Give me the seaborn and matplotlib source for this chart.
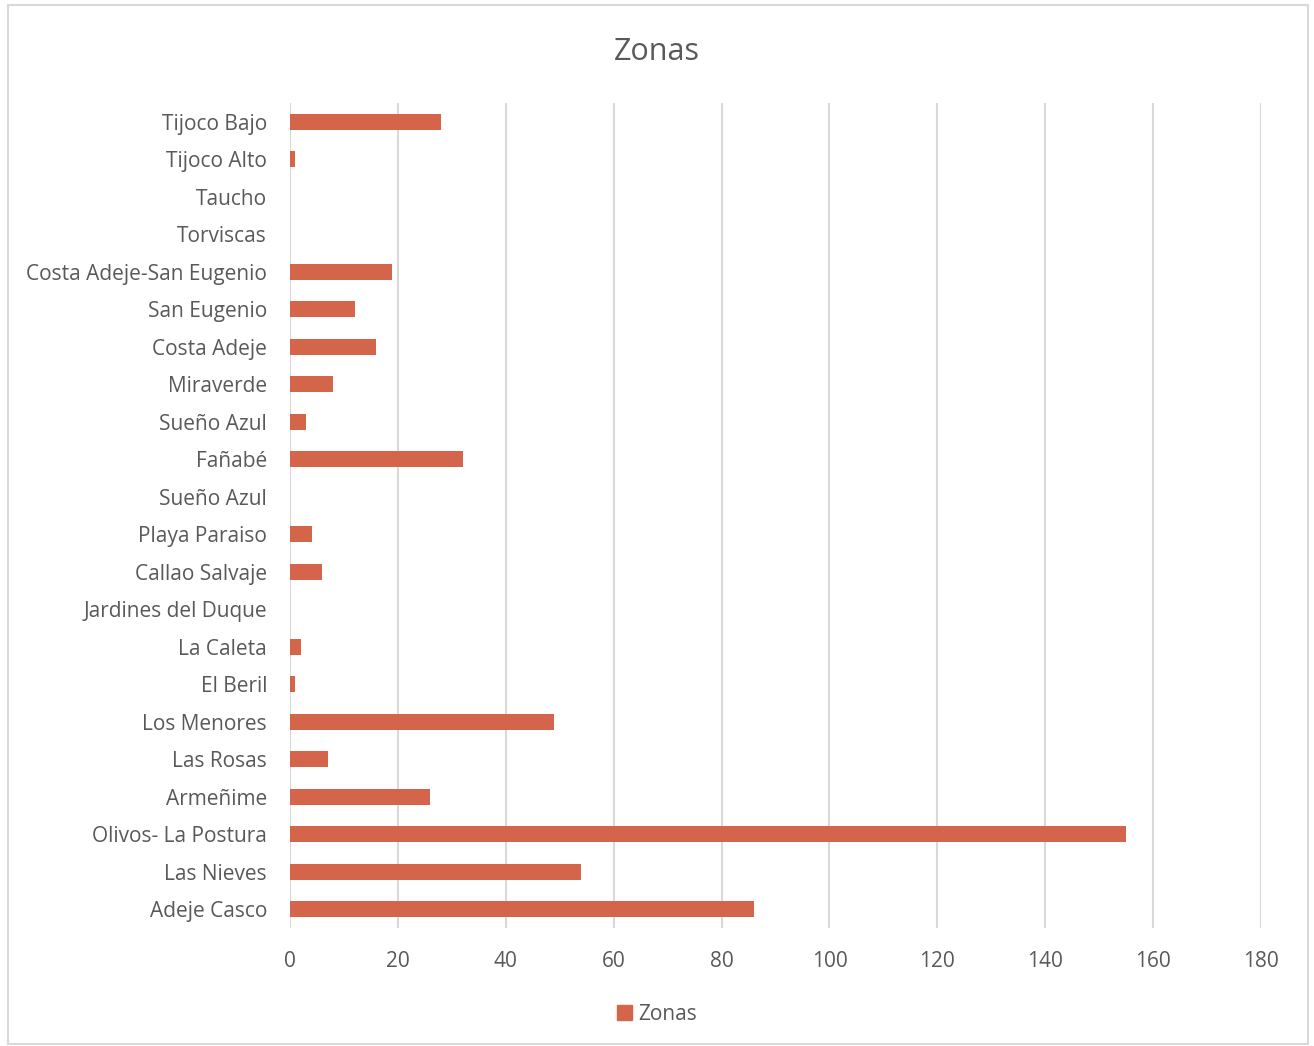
import matplotlib
matplotlib.use('Agg')
import matplotlib.pyplot as plt
import matplotlib.patches as mpatches
import seaborn as sns
import pandas as pd

# categories from top to bottom as in the chart
zonas = ['Tijoco Bajo', 'Tijoco Alto', 'Taucho', 'Torviscas',
         'Costa Adeje-San Eugenio', 'San Eugenio', 'Costa Adeje', 'Miraverde',
         'Sueño Azul', 'Fañabé', 'Sueño Azul', 'Playa Paraiso', 'Callao Salvaje',
         'Jardines del Duque', 'La Caleta', 'El Beril', 'Los Menores', 'Las Rosas',
         'Armeñime', 'Olivos- La Postura', 'Las Nieves', 'Adeje Casco']
valores = [28, 1, 0, 0, 19, 12, 16, 8, 3, 32, 0, 4, 6, 0, 2, 1, 49, 7, 26, 155, 54, 86]
ticks_x = [0, 20, 40, 60, 80, 100, 120, 140, 160, 180]

bar_color = '#D4654B'
txt = '#595959'
grid = '#D9D9D9'

sns.set_style('white')
plt.rcParams['font.family'] = ['Open Sans', 'DejaVu Sans']

# 'Sueño Azul' appears twice, so keep rows apart by position
df = pd.DataFrame({'pos': [str(i) for i in range(len(zonas))], 'valor': valores})

fig = plt.figure(figsize=(13.14, 10.46), dpi=100)
ax = fig.add_axes([290/1314, 1 - 928/1046, (1261-290)/1314, (928-103)/1046])

sns.barplot(data=df, x='valor', y='pos', orient='h', color=bar_color,
            width=0.42, saturation=1, linewidth=0, ax=ax)

ax.set_xlim(0, 180)
ax.set_xticks(ticks_x)
ax.set_xticklabels([str(t) for t in ticks_x], fontsize=15, color=txt)
ax.set_yticklabels(zonas, fontsize=15, color=txt)
ax.set_xlabel('')
ax.set_ylabel('')
ax.tick_params(axis='both', length=0)
ax.tick_params(axis='x', pad=16.5)
ax.tick_params(axis='y', pad=16.5)
ax.xaxis.grid(True, color=grid, linewidth=1.5)
ax.set_axisbelow(True)
for s in ax.spines.values():
    s.set_visible(False)

fig.text(0.5, 1 - 52/1046, 'Zonas', ha='center', va='center', fontsize=22, color=txt)

handle = mpatches.Patch(color=bar_color, label='Zonas')
fig.legend(handles=[handle], loc='center', bbox_to_anchor=(0.5, 1 - 1014/1046),
           frameon=False, fontsize=15, labelcolor=txt, handlelength=0.7,
           handleheight=0.7, handletextpad=0.3)

fig.patches.append(mpatches.Rectangle((8/1314, 1 - 1044/1046), 1300/1314, 1039/1046,
                                      transform=fig.transFigure, fill=False,
                                      edgecolor=grid, linewidth=1.5))

fig.savefig('out.png', dpi=100)
